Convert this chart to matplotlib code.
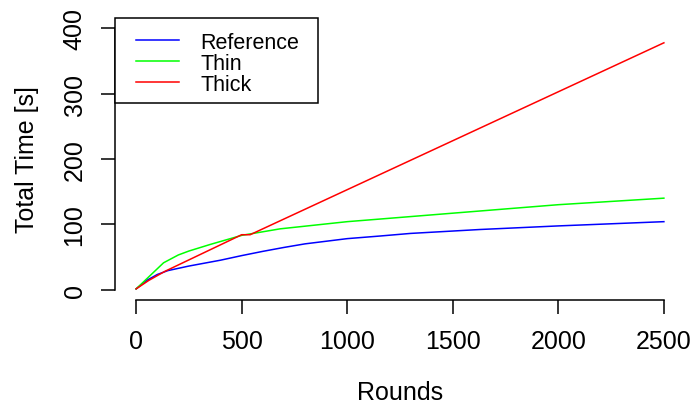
import matplotlib
matplotlib.use("Agg")
import matplotlib.pyplot as plt
from matplotlib.patches import Rectangle

plt.rcParams.update({"font.family": ["Liberation Sans", "DejaVu Sans"], "font.size": 18})

# rounds / total time [s]
REF_X = [0, 50, 100, 150, 250, 400, 500, 600, 700, 800, 1000, 1155, 1300, 1629, 2000, 2500]
REF_Y = [1, 14, 23, 29, 36, 45, 52, 58.5, 64.5, 70, 78, 82, 86, 92, 97.5, 104]
THIN_X = [0, 130, 200, 250, 350, 500, 682, 1000, 1155, 1500, 2000, 2500]
THIN_Y = [1, 41, 53, 59, 69, 83, 93, 104, 108, 117, 130, 140]
THICK_X = [0, 60, 137, 500, 540, 2500]
THICK_Y = [1, 14, 28, 84, 84, 378]

XTICKS = [0, 500, 1000, 1500, 2000, 2500]
YTICKS = [0, 100, 200, 300, 400]

fig = plt.figure(figsize=(6.95, 4.06), dpi=100)
ax = fig.add_axes([115 / 695, 105 / 406, 570 / 695, 282 / 406])

ax.plot(REF_X, REF_Y, color="#0000FF", lw=1.1, label="Reference")
ax.plot(THIN_X, THIN_Y, color="#00FF00", lw=1.1, label="Thin")
ax.plot(THICK_X, THICK_Y, color="#FF0000", lw=1.1, label="Thick")

ax.set_xlim(-100, 2600); ax.set_ylim(-16, 416)
ax.set_xticks(XTICKS); ax.set_yticks(YTICKS)
for s in ("top", "right"):
    ax.spines[s].set_visible(False)
ax.spines["left"].set_bounds(0, 400); ax.spines["bottom"].set_bounds(0, 2500)
ax.spines["left"].set_linewidth(1.1); ax.spines["bottom"].set_linewidth(1.1)
ax.tick_params(length=10, width=1.1)
ax.tick_params(axis="x", pad=11)
ax.tick_params(axis="y", pad=10.5)
for t in ax.get_yticklabels():
    t.set_rotation(90); t.set_va("center")

ax.set_xlabel("Rounds", labelpad=19)
ax.set_ylabel("Total Time [s]", labelpad=17)

# R-style legend box in the top-left corner of the plot region
ax.add_patch(Rectangle((0, 1 - 85 / 282), 203 / 570, 85 / 282, transform=ax.transAxes,
                       facecolor="white", edgecolor="black", lw=1.1, clip_on=False, zorder=4))
leg = ax.legend(loc="upper left", bbox_to_anchor=(136 / 695, 1 - 33 / 406),
                bbox_transform=fig.transFigure, borderaxespad=0, borderpad=0, fontsize=15.5,
                frameon=False, handlelength=2.0, handletextpad=1.0, labelspacing=0.0)
leg.set_zorder(5)

fig.savefig("out.png", dpi=100)
